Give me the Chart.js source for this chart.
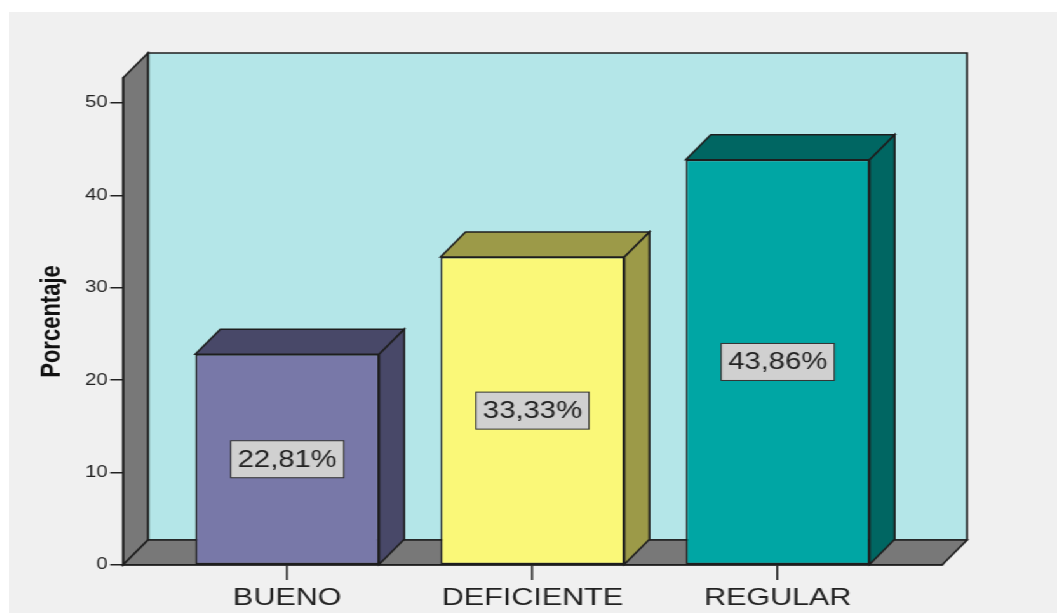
<!DOCTYPE html>
<html lang="es">
<head>
<meta charset="utf-8">
<title>Porcentaje</title>
<script src="https://cdn.jsdelivr.net/npm/chart.js@4.4.1/dist/chart.umd.min.js"></script>
<style>
    html, body { margin: 0; padding: 0; background: #fff; }
    body { width: 1057px; height: 613px; overflow: hidden; position: relative; }
    /* el original viene estirado en horizontal, por eso el scaleX */
    #marco {
        position: absolute; left: 9px; top: 12px;
        width: 825px; height: 601px;
        background: #f0f0f0;
        transform: scaleX(1.2703);
        transform-origin: 0 0;
    }
</style>
</head>
<body>
<div id="marco"><canvas id="grafico"></canvas></div>
<script>
// Datos del gráfico
const categorias = ['BUENO', 'DEFICIENTE', 'REGULAR'];
const porcentajes = [22.81, 33.33, 43.86];
const marcasY = [0, 10, 20, 30, 40, 50];

// Colores de las barras (frente y caras en sombra)
const coloresFrente = ['#7878a8', '#faf878', '#00a6a4'];
const coloresSombra = ['#484868', '#9c9a48', '#006662'];

// Profundidad del efecto 3D
const PROF_X = 19.7;
const PROF_Y = 25;
const LINEA = '#1e1e1e';

Chart.defaults.font.family = '"Liberation Sans", Arial, sans-serif';

function poligono(ctx, puntos, relleno) {
    ctx.beginPath();
    ctx.moveTo(puntos[0][0], puntos[0][1]);
    puntos.slice(1).forEach(p => ctx.lineTo(p[0], p[1]));
    ctx.closePath();
    ctx.fillStyle = relleno;
    ctx.fill();
    ctx.stroke();
}

// Paredes y suelo del fondo
const fondo3D = {
    id: 'fondo3D',
    beforeDraw(chart) {
        const { ctx, chartArea: a } = chart;
        ctx.save();
        ctx.lineWidth = 1.6;
        ctx.strokeStyle = LINEA;
        ctx.lineJoin = 'miter';
        // pared del fondo
        poligono(ctx, [
            [a.left + PROF_X, a.top - PROF_Y], [a.right + PROF_X, a.top - PROF_Y],
            [a.right + PROF_X, a.bottom - PROF_Y], [a.left + PROF_X, a.bottom - PROF_Y]
        ], '#b4e6e8');
        // pared lateral
        poligono(ctx, [
            [a.left, a.top], [a.left + PROF_X, a.top - PROF_Y],
            [a.left + PROF_X, a.bottom - PROF_Y], [a.left, a.bottom]
        ], '#787878');
        // suelo
        poligono(ctx, [
            [a.left, a.bottom], [a.left + PROF_X, a.bottom - PROF_Y],
            [a.right + PROF_X, a.bottom - PROF_Y], [a.right, a.bottom]
        ], '#787878');
        ctx.restore();
    }
};

// Caras superior y lateral de cada barra + etiqueta del valor
const barras3D = {
    id: 'barras3D',
    afterDatasetsDraw(chart) {
        const ctx = chart.ctx;
        const meta = chart.getDatasetMeta(0);
        ctx.save();
        ctx.lineWidth = 1.5;
        ctx.strokeStyle = LINEA;
        meta.data.forEach((barra, i) => {
            const { x, y, base, width } = barra.getProps(['x', 'y', 'base', 'width'], true);
            const izq = x - width / 2;
            const der = x + width / 2;
            poligono(ctx, [
                [izq, y], [izq + PROF_X, y - PROF_Y], [der + PROF_X, y - PROF_Y], [der, y]
            ], coloresSombra[i]);
            poligono(ctx, [
                [der, y], [der + PROF_X, y - PROF_Y], [der + PROF_X, base - PROF_Y], [der, base]
            ], coloresSombra[i]);
        });

        // etiquetas con el porcentaje
        ctx.font = '23px "Liberation Sans", Arial, sans-serif';
        ctx.textAlign = 'center';
        ctx.textBaseline = 'middle';
        meta.data.forEach((barra, i) => {
            const { x, y, base } = barra.getProps(['x', 'y', 'base'], true);
            const texto = porcentajes[i].toFixed(2).replace('.', ',') + '%';
            const ancho = ctx.measureText(texto).width + 11;
            const alto = 37;
            const cy = (y + base) / 2;
            ctx.fillStyle = '#d0d0d0';
            ctx.strokeStyle = '#333';
            ctx.lineWidth = 1;
            ctx.fillRect(x - ancho / 2, cy - alto / 2, ancho, alto);
            ctx.strokeRect(x - ancho / 2, cy - alto / 2, ancho, alto);
            ctx.fillStyle = '#222';
            ctx.fillText(texto, x, cy + 1);
        });
        ctx.restore();
    }
};

new Chart(document.getElementById('grafico'), {
    type: 'bar',
    data: {
        datasets: [{
            label: 'Porcentaje',
            data: porcentajes.map((v, i) => ({ x: i, y: v })),
            backgroundColor: coloresFrente,
            borderColor: LINEA,
            borderWidth: 1.5,
            borderSkipped: false,
            barPercentage: 0.75,
            categoryPercentage: 1
        }]
    },
    options: {
        responsive: true,
        maintainAspectRatio: false,
        animation: false,
        layout: {
            padding: { left: 0, right: 90.5, top: 66, bottom: 0 }
        },
        plugins: {
            legend: { display: false },
            tooltip: { enabled: false }
        },
        scales: {
            x: {
                type: 'linear',
                min: -0.67,
                max: 2.67,
                offset: false,
                afterBuildTicks: (escala) => {
                    escala.ticks = categorias.map((_, i) => ({ value: i }));
                },
                afterFit: (escala) => { escala.height = 48; },
                grid: {
                    offset: false,
                    drawOnChartArea: false,
                    tickLength: 15,
                    color: '#222',
                    lineWidth: 1.5
                },
                border: { display: true, color: LINEA, width: 1.6 },
                ticks: {
                    autoSkip: false,
                    maxRotation: 0,
                    padding: 4,
                    color: '#222',
                    font: { size: 24 },
                    callback: (valor) => categorias[valor] ?? ''
                }
            },
            y: {
                min: 0,
                max: 52.7,
                afterBuildTicks: (escala) => {
                    escala.ticks = marcasY.map(v => ({ value: v }));
                },
                afterFit: (escala) => { escala.width = 89.7; },
                grid: {
                    drawOnChartArea: false,
                    tickLength: 10,
                    color: '#222',
                    lineWidth: 1.5
                },
                border: { display: true, color: LINEA, width: 1.6 },
                ticks: {
                    padding: 2,
                    color: '#222',
                    font: { size: 16 }
                },
                title: {
                    display: true,
                    text: 'Porcentaje',
                    color: '#111',
                    font: { size: 22, weight: 'bold' },
                    padding: { top: 20.7, bottom: 0 }
                }
            }
        }
    },
    plugins: [fondo3D, barras3D]
});
</script>
</body>
</html>
